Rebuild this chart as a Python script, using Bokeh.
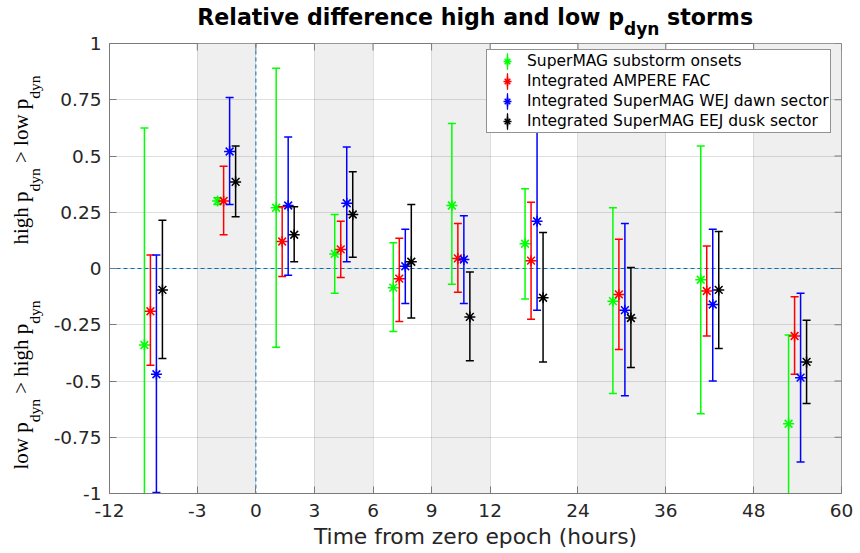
import numpy as np
from bokeh.plotting import figure
from bokeh.layouts import column, row
from bokeh.models import (Range1d, FixedTicker, Span, Legend, LegendItem, ColumnDataSource, Div)
from bokeh.embed import file_html
from bokeh.resources import INLINE

# ---------------- data ----------------
hour_edges = [-12, -3, 0, 3, 6, 9, 12, 24, 36, 48, 60]
tick_labels_x = ["-12", "-3", "0", "3", "6", "9", "12", "24", "36", "48", "60"]
y_ticks = [-1, -0.75, -0.5, -0.25, 0, 0.25, 0.5, 0.75, 1]
y_tick_labels = ["-1", "-0.75", "-0.5", "-0.25", "0", "0.25", "0.5", "0.75", "1"]
shaded_bins = [1, 3, 5, 7, 9]   # [-3,0], [3,6], [9,12], [24,36], [48,60]

series_names = ["SuperMAG substorm onsets", "Integrated AMPERE FAC",
                "Integrated SuperMAG WEJ dawn sector", "Integrated SuperMAG EEJ dusk sector"]

green_mid = [-0.34, 0.30, 0.27, 0.065, -0.085, 0.28, 0.11, -0.145, -0.05, -0.69]
green_up = [0.625, 0.315, 0.89, 0.24, 0.115, 0.645, 0.355, 0.27, 0.545, -0.295]
green_lo = [-1.1, 0.285, -0.35, -0.11, -0.28, -0.07, -0.135, -0.555, -0.645, -1.1]

red_mid = [-0.19, 0.30, 0.12, 0.085, -0.045, 0.045, 0.035, -0.115, -0.10, -0.30]
red_up = [0.06, 0.455, 0.275, 0.21, 0.135, 0.20, 0.295, 0.13, 0.10, -0.125]
red_lo = [-0.43, 0.15, -0.035, -0.04, -0.235, -0.105, -0.225, -0.36, -0.30, -0.47]

blue_mid = [-0.47, 0.52, 0.28, 0.29, 0.01, 0.04, 0.21, -0.185, -0.16, -0.485]
blue_up = [0.06, 0.76, 0.585, 0.54, 0.175, 0.235, 0.66, 0.20, 0.175, -0.11]
blue_lo = [-0.995, 0.285, -0.03, 0.03, -0.155, -0.155, -0.185, -0.565, -0.50, -0.86]

black_mid = [-0.095, 0.385, 0.15, 0.24, 0.03, -0.215, -0.13, -0.22, -0.095, -0.415]
black_up = [0.215, 0.545, 0.275, 0.43, 0.285, -0.015, 0.16, 0.005, 0.165, -0.23]
black_lo = [-0.40, 0.23, 0.03, 0.05, -0.22, -0.41, -0.415, -0.44, -0.355, -0.60]

series = [(green_mid, green_lo, green_up), (red_mid, red_lo, red_up),
          (blue_mid, blue_lo, blue_up), (black_mid, black_lo, black_up)]
colors = ["#00ff00", "#ff0000", "#0000ff", "#000000"]

# ---------------- layout / scale ----------------
bin_width_units = [1.5, 1, 1, 1, 1, 1, 1.5, 1.5, 1.5, 1.5]   # broken time axis
unit_edges = np.concatenate([[0.0], np.cumsum(bin_width_units)])
bin_centers = (unit_edges[:-1] + unit_edges[1:]) / 2


def hours_to_units(h):
    return float(np.interp(h, hour_edges, unit_edges))


W, H = 860, 553
TITLE_H = 33
YLAB_W = 48
FIG_W, FIG_H = W - YLAB_W, H - TITLE_H
FL, FR, FT, FB = 61, 19, 10, 60
frame_w = FIG_W - FL - FR
frame_h = FIG_H - FT - FB
x_max = float(unit_edges[-1])
px_per_unit = frame_w / x_max
py_per_unit = frame_h / 2.0
series_offsets_px = [-9, -3, 3, 9]
TICK_LEN = 7

AX = "#7a7a7a"
TXT = "#262626"

p = figure(width=FIG_W, height=FIG_H, x_range=Range1d(0, x_max), y_range=Range1d(-1, 1),
           output_backend="svg", toolbar_location=None,
           min_border_left=FL, min_border_right=FR, min_border_top=FT, min_border_bottom=FB)
p.title.visible = False
p.background_fill_color = "white"
p.border_fill_alpha = 0.0
p.outline_line_color = AX

xticker = FixedTicker(ticks=[float(u) for u in unit_edges])
yticker = FixedTicker(ticks=y_ticks)
p.xaxis.ticker = xticker
p.xaxis.major_label_overrides = {float(u): lab for u, lab in zip(unit_edges, tick_labels_x)}
p.yaxis.ticker = yticker
p.yaxis.major_label_overrides = {float(v): lab for v, lab in zip(y_ticks, y_tick_labels)}

for ax in list(p.xaxis) + list(p.yaxis):
    ax.major_tick_in = TICK_LEN
    ax.major_tick_out = 0
    ax.minor_tick_line_color = None
    ax.axis_line_color = AX
    ax.major_tick_line_color = AX
    ax.major_label_text_font = "DejaVu Sans"
    ax.major_label_text_font_size = "18.5px"
    ax.major_label_text_color = TXT
p.xaxis.major_label_standoff = 10
p.yaxis.major_label_standoff = 8

p.xaxis.axis_label = "Time from zero epoch (hours)"
p.xaxis.axis_label_text_font = "DejaVu Sans"
p.xaxis.axis_label_text_font_size = "21.8px"
p.xaxis.axis_label_text_font_style = "normal"
p.xaxis.axis_label_text_color = TXT
p.xaxis.axis_label_standoff = 4

p.xgrid.ticker = xticker
p.ygrid.ticker = yticker
for g in (p.xgrid, p.ygrid):
    g.grid_line_color = "#262626"
    g.grid_line_alpha = 0.15
    g.grid_line_width = 1

# inward ticks on the top and right edges of the box
xt = [float(u) for u in unit_edges]
p.segment(x0=xt, y0=[1.0] * len(xt), x1=xt, y1=[1.0 - TICK_LEN / py_per_unit] * len(xt),
          line_color=AX, line_width=1)
p.segment(x0=[x_max] * len(y_ticks), y0=y_ticks,
          x1=[x_max - TICK_LEN / px_per_unit] * len(y_ticks), y1=y_ticks,
          line_color=AX, line_width=1)

# shaded bands
band_src = ColumnDataSource(dict(
    left=[float(unit_edges[i]) for i in shaded_bins],
    right=[float(unit_edges[i + 1]) for i in shaded_bins],
))
p.quad(left="left", right="right", bottom=-1, top=1, source=band_src,
       fill_color="#efefef", line_color=None, level="image")

# zero lines
p.add_layout(Span(location=0, dimension="width", line_color="#0072BD",
                  line_dash="4 3", line_width=1, level="underlay"))
p.add_layout(Span(location=hours_to_units(0), dimension="height", line_color="#0072BD",
                  line_dash="4 3", line_width=1, level="underlay"))

items = []
for (mid, lo, up), col, off, name in zip(series, colors, series_offsets_px, series_names):
    xs = [float(c) + off / px_per_unit for c in bin_centers]
    src = ColumnDataSource(dict(x=xs, mid=mid, lo=lo, up=up))
    p.segment(x0="x", y0="lo", x1="x", y1="up", source=src, line_color=col, line_width=1.5)
    p.scatter(x="x", y="up", source=src, marker="dash", size=8, line_color=col, line_width=1.5)
    p.scatter(x="x", y="lo", source=src, marker="dash", size=8, line_color=col, line_width=1.5)
    # very slim ellipse: tiny in the plot, draws a vertical error-bar stroke in the legend
    icon = p.ellipse(x="x", y="mid", width=0.02, height=1.0, width_units="screen",
                     height_units="screen", source=src, fill_color=None,
                     line_color=col, line_width=1.5)
    star = p.scatter(x="x", y="mid", source=src, marker="asterisk", size=11,
                     line_color=col, line_width=1.5)
    items.append(LegendItem(label=name, renderers=[icon, star]))

legend = Legend(items=items, location=(486 - (YLAB_W + FL), (TITLE_H + FT + frame_h) - 133),
                margin=0, padding=1, spacing=0, glyph_width=38, glyph_height=20,
                label_height=20, label_standoff=1, label_text_font="DejaVu Sans",
                label_text_font_size="15.5px", label_text_color="#000000",
                border_line_color="#262626", border_line_width=1,
                background_fill_color="white", background_fill_alpha=1.0, click_policy="none")
p.add_layout(legend)

# title with subscript (SVG text, real text)
title_html = (
    f'<svg xmlns="http://www.w3.org/2000/svg" width="{W}" height="43" '
    'style="display:block;overflow:visible">'
    '<text x="475.2" y="25" text-anchor="middle" fill="#000000" '
    'style="font-family:\'DejaVu Sans\';font-weight:bold;font-size:22.1px">'
    'Relative difference high and low p'
    '<tspan dy="9.5" style="font-size:17px">dyn</tspan>'
    '<tspan dy="-9.5"> storms</tspan></text></svg>'
)
title_div = Div(text=title_html, width=W, height=TITLE_H, margin=0,
                styles={"overflow": "visible", "z-index": "2"})


# y labels with subscripts (rotated SVG text)
def ylab(cy, first, second):
    return (f'<text transform="translate(27.7,{cy}) rotate(-90)" text-anchor="middle" '
            'fill="#000000" style="font-family:\'Liberation Serif\';font-size:21px;'
            'font-weight:normal">'
            f'{first} p<tspan dy="12.3" style="font-size:15.5px">dyn</tspan>'
            f'<tspan dy="-12.3"> &gt; {second} p</tspan>'
            '<tspan dy="12.3" style="font-size:15.5px">dyn</tspan></text>')


ylab_html = (
    f'<svg xmlns="http://www.w3.org/2000/svg" width="{YLAB_W}" height="{FIG_H}" '
    'style="display:block">'
    + ylab(160 - TITLE_H, "high", "low") + ylab(385 - TITLE_H, "low", "high") + '</svg>'
)
ylab_div = Div(text=ylab_html, width=YLAB_W, height=FIG_H, margin=0)

layout = column(title_div, row(ylab_div, p, spacing=0), spacing=0)

open("out.html", "w").write(file_html(layout, INLINE))
